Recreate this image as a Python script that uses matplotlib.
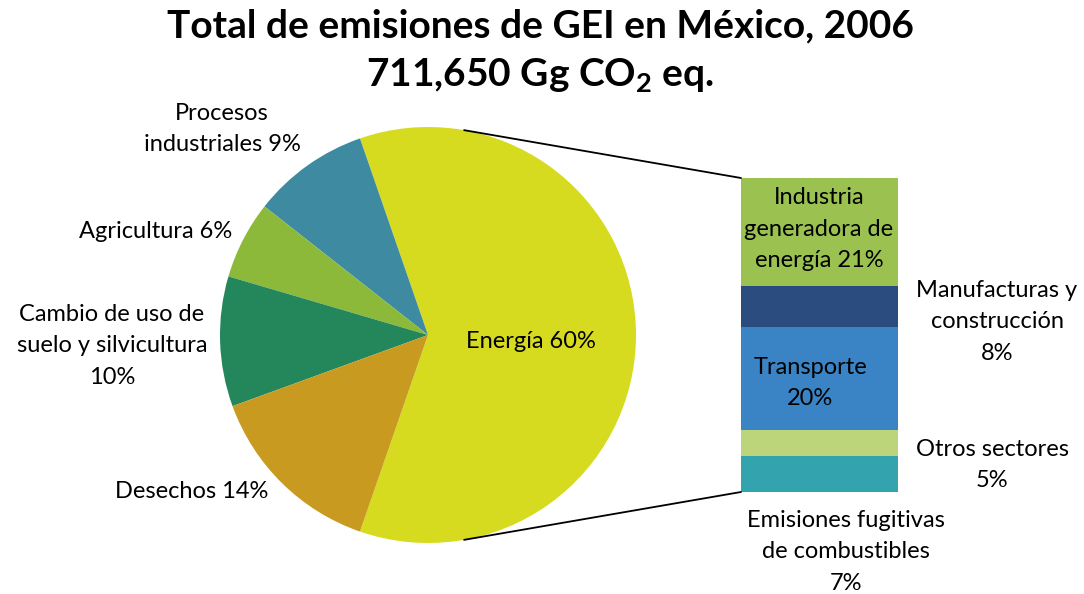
"""Total de emisiones de GEI en México, 2006: pie of bar."""

import matplotlib

matplotlib.use("Agg")
import matplotlib.pyplot as plt
import numpy as np
from matplotlib.patches import ConnectionPatch

plt.rcParams["font.family"] = ["Lato", "DejaVu Sans"]
plt.rcParams["mathtext.fontset"] = "custom"
plt.rcParams["mathtext.rm"] = "Lato"
plt.rcParams["mathtext.bf"] = "Lato:bold"

# Main pie (counterclockwise from Energía)
PIE_LABELS = ["Energía", "Procesos\nindustriales", "Agricultura",
              "Cambio de uso de\nsuelo y silvicultura\n", "Desechos"]
PIE_VALUES = [60, 9, 6, 10, 14]
PIE_COLORS = ["#d7db1f", "#3d8aa1", "#8db93b", "#24875c", "#c89a1f"]

# Breakdown of Energía, bottom to top
BAR_LABELS = ["Emisiones fugitivas\nde combustibles\n", "Otros sectores\n",
              "Transporte\n", "Manufacturas y\nconstrucción\n",
              "Industria\ngeneradora de\nenergía"]
BAR_VALUES = [7, 5, 20, 8, 21]
BAR_COLORS = ["#33a3ad", "#bcd57a", "#3a83c4", "#2b4c7e", "#9bc250"]

W, H = 1084, 594
FS = 17


def px_axes(fig, left, top, right, bottom):
    return fig.add_axes([left / W, 1 - bottom / H, (right - left) / W, (bottom - top) / H])


fig = plt.figure(figsize=(W / 100, H / 100), dpi=100)

# pie: centre (428, 335) px, radius 208 px
r = 208
ax_pie = px_axes(fig, 428 - r, 335 - r, 428 + r, 335 + r)
total = sum(PIE_VALUES)
start = -PIE_VALUES[0] / total * 360 / 2
ax_pie.pie(PIE_VALUES, colors=PIE_COLORS, startangle=start, counterclock=True,
           radius=1, wedgeprops={"linewidth": 0})
ax_pie.set_xlim(-1, 1)
ax_pie.set_ylim(-1, 1)
ax_pie.set_aspect("auto")
ax_pie.axis("off")

# bar
ax_bar = px_axes(fig, 741, 178, 898, 492)
bottom = 0
for v, c in zip(BAR_VALUES, BAR_COLORS):
    ax_bar.bar(0, v, bottom=bottom, width=1, color=c, linewidth=0)
    bottom += v
ax_bar.set_xlim(-0.5, 0.5)
ax_bar.set_ylim(0, sum(BAR_VALUES))
ax_bar.axis("off")

# connector lines from the pie rim to the bar corners
ang = np.deg2rad(80)
for sign, ybar in ((1, sum(BAR_VALUES)), (-1, 0)):
    con = ConnectionPatch(xyA=(np.cos(ang), sign * np.sin(ang)), coordsA=ax_pie.transData,
                          xyB=(-0.5, ybar), coordsB=ax_bar.transData,
                          color="black", linewidth=1.3)
    fig.add_artist(con)

# text overlay in pixel coordinates
ax_t = fig.add_axes([0, 0, 1, 1], facecolor="none")
ax_t.set_xlim(0, W)
ax_t.set_ylim(H, 0)
ax_t.axis("off")

ax_t.text(540, 26, "Total de emisiones de GEI en México, 2006", ha="center", va="center",
          fontsize=28, fontweight="bold")
ax_t.text(540, 76, "711,650 Gg CO$_{\\mathbf{2}}$ eq.", ha="center", va="center",
          fontsize=28, fontweight="bold")

kw = dict(ha="center", va="center", fontsize=FS, linespacing=1.6)
pie_pos = [(531, 342), (222, 129), (156, 232), (112, 346), (192, 491)]
for (x, y), lab, v in zip(pie_pos, PIE_LABELS, PIE_VALUES):
    sep = "" if lab.endswith("\n") else " "
    ax_t.text(x, y, f"{lab}{sep}{v}%", **kw)

bar_pos = [(846, 552), (992, 465), (810, 383), (997, 322), (819, 229)]
for (x, y), lab, v in zip(bar_pos, BAR_LABELS, BAR_VALUES):
    sep = "" if lab.endswith("\n") else " "
    ax_t.text(x, y, f"{lab}{sep}{v}%", **kw)

fig.savefig("out.png", dpi=100)
